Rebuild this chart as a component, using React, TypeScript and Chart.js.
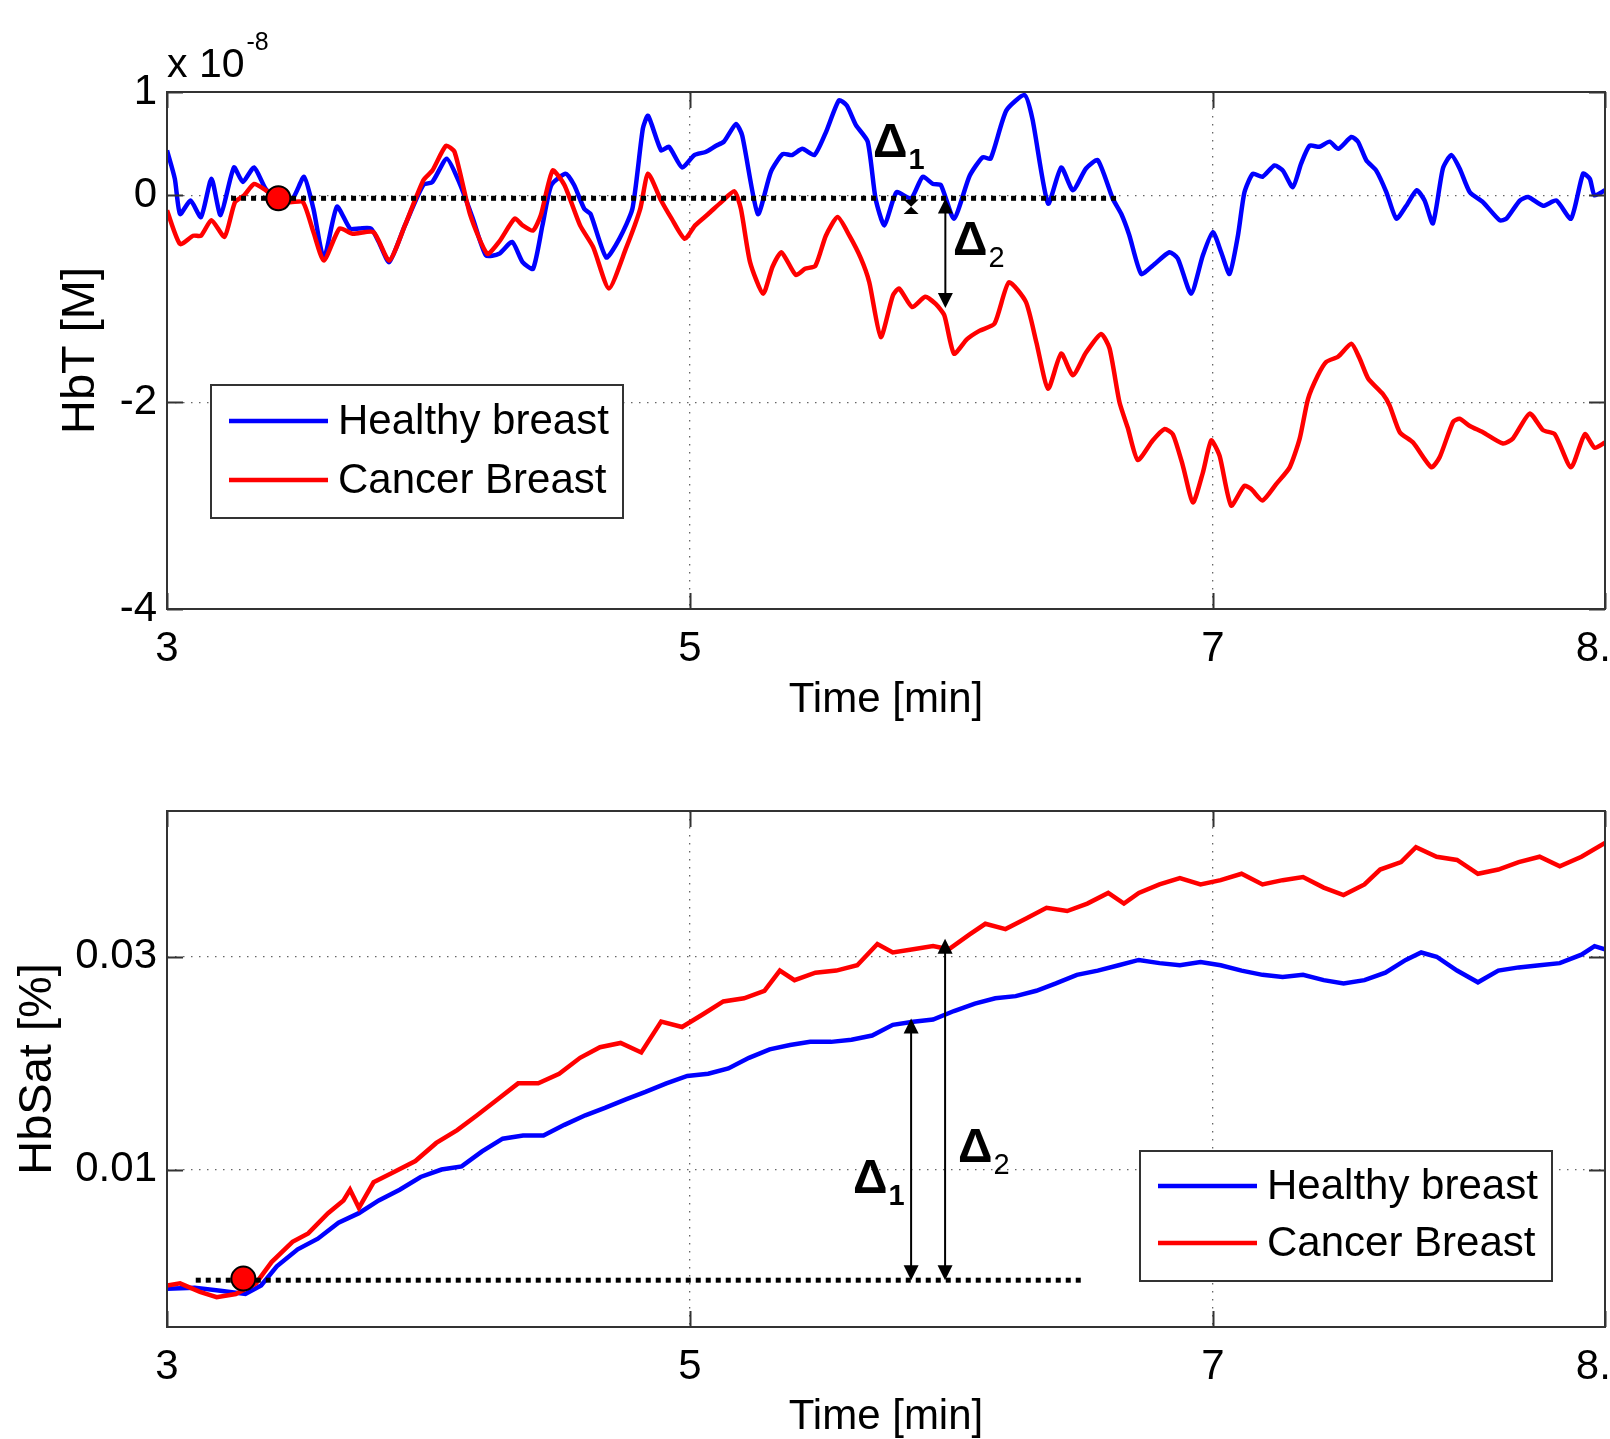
import React, { useEffect, useRef } from "react";
import { Chart, registerables } from "chart.js";
Chart.register(...registerables);

const FONT = '"Liberation Sans", Arial, Helvetica, sans-serif';

// ---------- shared x axis ----------
const X_MIN = 3;
const X_MAX = 8.5;
const X_TICKS = [3, 5, 7, 8.5];
const X_TITLE = "Time [min]";
const SERIES_LABELS = ["Healthy breast", "Cancer Breast"];
const DELTA_SUBS = ["1", "2"];

// ---------- top panel: HbT (x 10^-8 M) ----------
const HBT_Y_MIN = -4;
const HBT_Y_MAX = 1;
const HBT_Y_TICKS = [-4, -2, 0, 1];
const HBT_TITLE = "HbT [M]";
const HBT_EXPONENT = ["x 10", "-8"];

const HBT_HEALTHY_T = [3.0, 3.03, 3.05, 3.09, 3.13, 3.17, 3.205, 3.256, 3.29, 3.333, 3.378, 3.42, 3.48, 3.524, 3.56, 3.6, 3.65, 3.7, 3.735, 3.78, 3.81, 3.85, 3.91, 3.98, 4.015, 4.07, 4.117, 4.17, 4.22, 4.27, 4.32, 4.36, 4.4, 4.436, 4.47, 4.525, 4.557, 4.596, 4.62, 4.68, 4.73, 4.78, 4.82, 4.84, 4.89, 4.92, 4.97, 5.017, 5.06, 5.1, 5.13, 5.176, 5.2, 5.26, 5.31, 5.355, 5.39, 5.43, 5.476, 5.52, 5.57, 5.6, 5.635, 5.68, 5.71, 5.744, 5.79, 5.846, 5.89, 5.93, 5.96, 6.01, 6.07, 6.12, 6.15, 6.21, 6.28, 6.31, 6.37, 6.42, 6.465, 6.515, 6.56, 6.617, 6.65, 6.68, 6.726, 6.77, 6.834, 6.866, 6.917, 6.962, 7.0, 7.032, 7.064, 7.096, 7.121, 7.153, 7.19, 7.236, 7.268, 7.306, 7.338, 7.37, 7.408, 7.447, 7.48, 7.53, 7.555, 7.587, 7.625, 7.664, 7.702, 7.74, 7.78, 7.81, 7.842, 7.88, 7.912, 7.944, 7.983, 8.033, 8.097, 8.123, 8.174, 8.206, 8.263, 8.314, 8.37, 8.416, 8.442, 8.46, 8.5];
const HBT_HEALTHY_V = [0.435, 0.16, -0.18, -0.05, -0.21, 0.16, -0.19, 0.27, 0.13, 0.27, 0.06, -0.03, -0.03, 0.18, -0.13, -0.61, -0.11, -0.32, -0.32, -0.32, -0.45, -0.645, -0.29, 0.1, 0.13, 0.355, 0.13, -0.225, -0.58, -0.565, -0.45, -0.645, -0.71, -0.29, 0.1, 0.21, 0.1, -0.13, -0.18, -0.6, -0.42, -0.13, 0.645, 0.77, 0.435, 0.47, 0.27, 0.39, 0.42, 0.48, 0.52, 0.69, 0.58, -0.18, 0.23, 0.4, 0.39, 0.45, 0.39, 0.61, 0.92, 0.87, 0.68, 0.52, -0.03, -0.29, 0.03, -0.03, 0.18, 0.11, 0.1, -0.225, 0.19, 0.37, 0.355, 0.82, 0.97, 0.74, -0.08, 0.27, 0.05, 0.26, 0.34, -0.03, -0.18, -0.38, -0.76, -0.68, -0.55, -0.61, -0.95, -0.58, -0.355, -0.55, -0.76, -0.39, 0.03, 0.21, 0.18, 0.29, 0.24, 0.08, 0.31, 0.48, 0.47, 0.52, 0.45, 0.565, 0.52, 0.34, 0.24, 0.03, -0.225, -0.1, 0.05, -0.05, -0.27, 0.26, 0.39, 0.26, 0.03, -0.065, -0.24, -0.225, -0.05, -0.016, -0.1, -0.05, -0.225, 0.21, 0.16, 0.0, 0.05];

const HBT_CANCER_T = [3.0, 3.05, 3.1, 3.13, 3.17, 3.22, 3.26, 3.295, 3.333, 3.378, 3.42, 3.47, 3.52, 3.56, 3.6, 3.66, 3.71, 3.79, 3.85, 3.91, 3.98, 4.015, 4.067, 4.1, 4.16, 4.225, 4.27, 4.33, 4.36, 4.4, 4.43, 4.475, 4.52, 4.58, 4.63, 4.69, 4.755, 4.81, 4.84, 4.89, 4.93, 4.98, 5.02, 5.07, 5.12, 5.17, 5.195, 5.23, 5.28, 5.316, 5.35, 5.405, 5.44, 5.48, 5.52, 5.565, 5.61, 5.654, 5.686, 5.73, 5.776, 5.8, 5.85, 5.9, 5.94, 5.973, 6.01, 6.06, 6.107, 6.165, 6.22, 6.285, 6.325, 6.37, 6.42, 6.465, 6.515, 6.573, 6.605, 6.643, 6.675, 6.713, 6.77, 6.815, 6.847, 6.885, 6.924, 6.962, 6.994, 7.026, 7.07, 7.12, 7.147, 7.19, 7.243, 7.294, 7.332, 7.364, 7.402, 7.434, 7.479, 7.53, 7.562, 7.594, 7.65, 7.676, 7.715, 7.766, 7.836, 7.868, 7.919, 7.944, 7.983, 8.033, 8.11, 8.148, 8.212, 8.263, 8.308, 8.37, 8.423, 8.46, 8.5];
const HBT_CANCER_V = [-0.145, -0.47, -0.39, -0.39, -0.24, -0.4, -0.065, 0.0, 0.11, 0.05, -0.03, -0.065, -0.065, -0.355, -0.63, -0.32, -0.37, -0.355, -0.63, -0.29, 0.145, 0.24, 0.48, 0.42, -0.19, -0.565, -0.45, -0.225, -0.29, -0.34, -0.19, 0.24, 0.1, -0.29, -0.5, -0.9, -0.515, -0.13, 0.21, -0.05, -0.225, -0.42, -0.29, -0.18, -0.065, 0.04, -0.13, -0.645, -0.95, -0.69, -0.55, -0.77, -0.71, -0.68, -0.39, -0.21, -0.39, -0.61, -0.84, -1.37, -0.97, -0.9, -1.08, -0.98, -1.05, -1.16, -1.53, -1.39, -1.31, -1.24, -0.84, -1.03, -1.42, -1.87, -1.53, -1.74, -1.52, -1.34, -1.48, -2.0, -2.25, -2.56, -2.37, -2.26, -2.31, -2.61, -2.97, -2.68, -2.37, -2.52, -3.0, -2.81, -2.84, -2.95, -2.79, -2.63, -2.355, -1.97, -1.74, -1.61, -1.56, -1.435, -1.58, -1.77, -1.92, -2.03, -2.29, -2.39, -2.63, -2.53, -2.19, -2.16, -2.23, -2.29, -2.4, -2.35, -2.11, -2.27, -2.31, -2.63, -2.31, -2.44, -2.39];

const HBT_BASELINE_T = [3.245, 6.64];
const HBT_BASELINE_V = [-0.028, -0.028];
const HBT_ONSET_T = [3.426];
const HBT_ONSET_V = [-0.028];
const HBT_ARROW_T = [5.846, 5.977];
const HBT_ARROW_FROM = [-0.04, -0.03];
const HBT_ARROW_TO = [-0.18, -1.09];
const HBT_DELTA_T = [5.7, 6.006];
const HBT_DELTA_V = [0.368, -0.58];

// ---------- bottom panel: HbSat ----------
const SAT_Y_MIN = -0.0048;
const SAT_Y_MAX = 0.0437;
const SAT_Y_TICKS = [0.01, 0.03];
const SAT_TITLE = "HbSat [%]";

const SAT_HEALTHY_T = [3.0, 3.106, 3.204, 3.3, 3.36, 3.42, 3.5, 3.577, 3.656, 3.734, 3.81, 3.89, 3.97, 4.05, 4.127, 4.205, 4.284, 4.362, 4.44, 4.52, 4.6, 4.675, 4.755, 4.83, 4.91, 4.99, 5.07, 5.147, 5.226, 5.305, 5.383, 5.46, 5.54, 5.618, 5.697, 5.776, 5.854, 5.93, 6.01, 6.09, 6.168, 6.246, 6.325, 6.4, 6.48, 6.56, 6.64, 6.717, 6.796, 6.874, 6.953, 7.03, 7.11, 7.19, 7.267, 7.345, 7.424, 7.5, 7.58, 7.66, 7.738, 7.797, 7.856, 7.934, 8.014, 8.092, 8.17, 8.25, 8.327, 8.41, 8.46, 8.5];
const SAT_HEALTHY_V = [-0.0012, -0.0011, -0.0014, -0.0017, -0.0009, 0.0009, 0.0025, 0.0035, 0.005, 0.0059, 0.0071, 0.0081, 0.0093, 0.01, 0.0103, 0.0117, 0.0129, 0.0132, 0.0132, 0.0142, 0.0151, 0.0158, 0.0166, 0.0173, 0.0181, 0.0188, 0.019, 0.0195, 0.0205, 0.0213, 0.0217, 0.022, 0.022, 0.0222, 0.0226, 0.0236, 0.0239, 0.0241, 0.0249, 0.0256, 0.0261, 0.0263, 0.0268, 0.0275, 0.0283, 0.0287, 0.0292, 0.0297, 0.0294, 0.0292, 0.0295, 0.0292, 0.0287, 0.0283, 0.0281, 0.0283, 0.0278, 0.0275, 0.0278, 0.0285, 0.0297, 0.0304, 0.03, 0.0287, 0.0276, 0.0287, 0.029, 0.0292, 0.0294, 0.0302, 0.031, 0.0307];

const SAT_CANCER_T = [3.0, 3.05, 3.126, 3.19, 3.263, 3.34, 3.4, 3.48, 3.54, 3.616, 3.675, 3.7, 3.734, 3.79, 3.87, 3.95, 4.03, 4.11, 4.186, 4.265, 4.343, 4.42, 4.5, 4.58, 4.656, 4.735, 4.814, 4.89, 4.97, 5.05, 5.128, 5.207, 5.285, 5.344, 5.4, 5.48, 5.56, 5.64, 5.717, 5.776, 5.854, 5.93, 5.99, 6.07, 6.13, 6.207, 6.286, 6.364, 6.443, 6.52, 6.6, 6.66, 6.717, 6.796, 6.874, 6.953, 7.03, 7.11, 7.19, 7.267, 7.345, 7.424, 7.5, 7.58, 7.64, 7.72, 7.777, 7.856, 7.934, 8.014, 8.092, 8.17, 8.25, 8.327, 8.41, 8.5];
const SAT_CANCER_V = [-0.0009, -0.0007, -0.0015, -0.002, -0.0017, -0.0007, 0.0013, 0.0032, 0.004, 0.0059, 0.0071, 0.0081, 0.0064, 0.0088, 0.0098, 0.0108, 0.0125, 0.0137, 0.0151, 0.0166, 0.0181, 0.0181, 0.019, 0.0205, 0.0215, 0.0219, 0.021, 0.0239, 0.0234, 0.0246, 0.0258, 0.0261, 0.0268, 0.0287, 0.0278, 0.0285, 0.0287, 0.0292, 0.0312, 0.0304, 0.0307, 0.031, 0.0307, 0.0321, 0.0331, 0.0326, 0.0336, 0.0346, 0.0343, 0.035, 0.036, 0.035, 0.036, 0.0368, 0.0374, 0.0368, 0.0372, 0.0378, 0.0368, 0.0372, 0.0375, 0.0365, 0.0358, 0.0368, 0.0382, 0.0389, 0.0403, 0.0394, 0.0391, 0.0378, 0.0382, 0.0389, 0.0394, 0.0385, 0.0394, 0.0407];

const SAT_BASELINE_T = [3.11, 6.51];
const SAT_BASELINE_V = [-0.0004, -0.0004];
const SAT_ONSET_T = [3.292];
const SAT_ONSET_V = [-0.00025];
const SAT_ARROW_T = [5.846, 5.976];
const SAT_ARROW_FROM = [0.0242, 0.0317];
const SAT_ARROW_TO = [-0.0004, -0.0004];
const SAT_DELTA_T = [5.624, 6.025];
const SAT_DELTA_V = [0.00777, 0.01069];

// ---------- helpers ----------
const zip = (t: number[], v: number[]) => t.map((x, i) => ({ x, y: v[i] }));

const CANVAS_W = 1640; // wider than the page: the page edge clips the "8.5" label like the reference

type Panel = {
  healthyT: number[]; healthyV: number[]; cancerT: number[]; cancerV: number[];
  baseT: number[]; baseV: number[]; onsetT: number[]; onsetV: number[];
  arrowT: number[]; arrowFrom: number[]; arrowTo: number[];
  deltaT: number[]; deltaV: number[];
  yMin: number; yMax: number; yTicks: number[]; yTitle: string;
  yFmt: (v: number) => string;
  exponent?: string[];
  tension: number;
  // layout
  canvasH: number; padTop: number; xAxisH: number; xTitlePad: number; yTitlePad: number;
  legendDx: number; legendDy: number; legendW: number; legendH: number; legendRows: number[];
};

function drawArrow(ctx: CanvasRenderingContext2D, x: number, ya: number, yb: number) {
  const y1 = Math.min(ya, yb), y2 = Math.max(ya, yb);
  const L = 15, W = 7.5;
  ctx.fillStyle = "#000";
  ctx.strokeStyle = "#000";
  ctx.lineWidth = 2;
  if (y2 - y1 > 2 * L) {
    ctx.beginPath();
    ctx.moveTo(x, y1 + L - 1);
    ctx.lineTo(x, y2 - L + 1);
    ctx.stroke();
    ctx.beginPath();
    ctx.moveTo(x, y1); ctx.lineTo(x - W, y1 + L); ctx.lineTo(x + W, y1 + L); ctx.closePath();
    ctx.fill();
    ctx.beginPath();
    ctx.moveTo(x, y2); ctx.lineTo(x - W, y2 - L); ctx.lineTo(x + W, y2 - L); ctx.closePath();
    ctx.fill();
  } else {
    const m = (y1 + y2) / 2;
    ctx.beginPath();
    ctx.moveTo(x - W, y1); ctx.lineTo(x + W, y1); ctx.lineTo(x, m); ctx.closePath();
    ctx.fill();
    ctx.beginPath();
    ctx.moveTo(x - W, y2); ctx.lineTo(x + W, y2); ctx.lineTo(x, m); ctx.closePath();
    ctx.fill();
  }
}

function decorPlugin(p: Panel) {
  return {
    id: "panelDecor",
    afterDatasetsDraw(chart: any) {
      const ctx: CanvasRenderingContext2D = chart.ctx;
      const a = chart.chartArea;
      const xs = chart.scales.x;
      const ys = chart.scales.y;
      ctx.save();

      // inward tick marks
      ctx.strokeStyle = "#333";
      ctx.lineWidth = 2;
      const TL = 16;
      ctx.beginPath();
      X_TICKS.forEach((v) => {
        const x = Math.round(xs.getPixelForValue(v)) + 0.5;
        ctx.moveTo(x, a.bottom); ctx.lineTo(x, a.bottom - TL);
        ctx.moveTo(x, a.top); ctx.lineTo(x, a.top + TL);
      });
      p.yTicks.forEach((v) => {
        const y = Math.round(ys.getPixelForValue(v)) + 0.5;
        ctx.moveTo(a.left, y); ctx.lineTo(a.left + TL, y);
        ctx.moveTo(a.right, y); ctx.lineTo(a.right - TL, y);
      });
      ctx.stroke();

      // box
      ctx.strokeRect(a.left, a.top, a.right - a.left, a.bottom - a.top);

      // arrows
      p.arrowT.forEach((t, i) => {
        drawArrow(ctx, xs.getPixelForValue(t), ys.getPixelForValue(p.arrowFrom[i]), ys.getPixelForValue(p.arrowTo[i]));
      });

      // delta labels
      ctx.fillStyle = "#000";
      ctx.textBaseline = "alphabetic";
      ctx.textAlign = "left";
      p.deltaT.forEach((t, i) => {
        const x = xs.getPixelForValue(t);
        const y = ys.getPixelForValue(p.deltaV[i]);
        ctx.font = `bold 48px ${FONT}`;
        ctx.fillText("\u0394", x, y);
        const w = ctx.measureText("\u0394").width;
        ctx.font = `${i === 0 ? "bold " : ""}29px ${FONT}`;
        ctx.fillText(DELTA_SUBS[i], x + w + 1, y + 12);
      });

      // legend
      const lx = a.left + p.legendDx;
      const ly = a.top + p.legendDy;
      ctx.fillStyle = "#fff";
      ctx.fillRect(lx, ly, p.legendW, p.legendH);
      ctx.strokeStyle = "#333";
      ctx.lineWidth = 2;
      ctx.strokeRect(lx, ly, p.legendW, p.legendH);
      ctx.font = `42px ${FONT}`;
      ctx.textBaseline = "middle";
      [0, 1].forEach((k) => {
        const ds = chart.data.datasets[k];
        const ry = ly + p.legendRows[k];
        ctx.strokeStyle = ds.borderColor;
        ctx.lineWidth = 4.5;
        ctx.beginPath();
        ctx.moveTo(lx + 18, ry); ctx.lineTo(lx + 117, ry);
        ctx.stroke();
        ctx.fillStyle = "#000";
        ctx.fillText(ds.label, lx + 127, ry + 1);
      });

      // exponent label
      if (p.exponent) {
        ctx.fillStyle = "#000";
        ctx.textBaseline = "alphabetic";
        ctx.font = `41px ${FONT}`;
        ctx.fillText(p.exponent[0], a.left, a.top - 15);
        const w = ctx.measureText(p.exponent[0]).width;
        ctx.font = `25px ${FONT}`;
        ctx.fillText(p.exponent[1], a.left + w + 2, a.top - 42);
      }
      ctx.restore();
    },
  };
}

function buildConfig(p: Panel): any {
  return {
    type: "line",
    data: {
      datasets: [
        { label: SERIES_LABELS[0], data: zip(p.healthyT, p.healthyV), borderColor: "#0000ff", borderWidth: 4.5, pointRadius: 0, tension: p.tension, order: 4 },
        { label: SERIES_LABELS[1], data: zip(p.cancerT, p.cancerV), borderColor: "#ff0000", borderWidth: 4.5, pointRadius: 0, tension: p.tension, order: 3 },
        { label: "baseline", data: zip(p.baseT, p.baseV), borderColor: "#000", borderWidth: 5, borderDash: [5, 5], pointRadius: 0, order: 2 },
        { label: "onset", data: zip(p.onsetT, p.onsetV), showLine: false, pointRadius: 12, pointBackgroundColor: "#ff0000", pointBorderColor: "#000", pointBorderWidth: 2, order: 1, clip: false },
      ],
    },
    options: {
      responsive: false,
      animation: false,
      devicePixelRatio: 1,
      events: [],
      layout: { padding: { top: p.padTop, right: CANVAS_W - 1605, left: 0, bottom: 0 } },
      plugins: { legend: { display: false }, tooltip: { enabled: false }, title: { display: false } },
      scales: {
        x: {
          type: "linear",
          min: X_MIN,
          max: X_MAX,
          afterBuildTicks: (s: any) => { s.ticks = X_TICKS.map((value) => ({ value })); },
          afterFit: (s: any) => { s.height = p.xAxisH; s.paddingLeft = 0; s.paddingRight = 0; },
          grid: { color: "#666", lineWidth: 1.3, drawTicks: false },
          border: { display: false, dash: [1.5, 6.5] },
          ticks: {
            autoSkip: false, maxRotation: 0, padding: 15, color: "#000",
            font: { family: FONT, size: 42 },
            callback: (v: number) => String(v),
          },
          title: { display: true, text: X_TITLE, color: "#000", font: { family: FONT, size: 42 }, padding: { top: 0, bottom: p.xTitlePad } },
        },
        y: {
          type: "linear",
          min: p.yMin,
          max: p.yMax,
          afterBuildTicks: (s: any) => { s.ticks = p.yTicks.map((value) => ({ value })); },
          afterFit: (s: any) => { s.width = 167; },
          grid: { color: "#666", lineWidth: 1.3, drawTicks: false },
          border: { display: false, dash: [1.5, 6.5] },
          ticks: {
            autoSkip: false, padding: 10, color: "#000",
            font: { family: FONT, size: 42 },
            callback: (v: number) => p.yFmt(v),
          },
          title: { display: true, text: p.yTitle, color: "#000", font: { family: FONT, size: 47 }, padding: { top: p.yTitlePad, bottom: 0 } },
        },
      },
    },
    plugins: [decorPlugin(p)],
  };
}

const TOP_PANEL: Panel = {
  healthyT: HBT_HEALTHY_T, healthyV: HBT_HEALTHY_V, cancerT: HBT_CANCER_T, cancerV: HBT_CANCER_V,
  baseT: HBT_BASELINE_T, baseV: HBT_BASELINE_V, onsetT: HBT_ONSET_T, onsetV: HBT_ONSET_V,
  arrowT: HBT_ARROW_T, arrowFrom: HBT_ARROW_FROM, arrowTo: HBT_ARROW_TO,
  deltaT: HBT_DELTA_T, deltaV: HBT_DELTA_V,
  yMin: HBT_Y_MIN, yMax: HBT_Y_MAX, yTicks: HBT_Y_TICKS, yTitle: HBT_TITLE,
  yFmt: (v) => String(v), exponent: HBT_EXPONENT, tension: 0.2,
  canvasH: 740, padTop: 92, xAxisH: 131, xTitlePad: 14, yTitlePad: 53,
  legendDx: 44, legendDy: 293, legendW: 412, legendH: 133, legendRows: [36, 95],
};

const BOTTOM_PANEL: Panel = {
  healthyT: SAT_HEALTHY_T, healthyV: SAT_HEALTHY_V, cancerT: SAT_CANCER_T, cancerV: SAT_CANCER_V,
  baseT: SAT_BASELINE_T, baseV: SAT_BASELINE_V, onsetT: SAT_ONSET_T, onsetV: SAT_ONSET_V,
  arrowT: SAT_ARROW_T, arrowFrom: SAT_ARROW_FROM, arrowTo: SAT_ARROW_TO,
  deltaT: SAT_DELTA_T, deltaV: SAT_DELTA_V,
  yMin: SAT_Y_MIN, yMax: SAT_Y_MAX, yTicks: SAT_Y_TICKS, yTitle: SAT_TITLE,
  yFmt: (v) => v.toFixed(2), tension: 0,
  canvasH: 720, padTop: 71, xAxisH: 133, xTitlePad: 17, yTitlePad: 10,
  legendDx: 973, legendDy: 340, legendW: 412, legendH: 130, legendRows: [35, 92],
};

function PanelChart({ panel, top }: { panel: Panel; top: number }) {
  const ref = useRef<HTMLCanvasElement>(null);
  useEffect(() => {
    if (!ref.current) return;
    const chart = new Chart(ref.current, buildConfig(panel));
    return () => chart.destroy();
  }, [panel]);
  return (
    <canvas
      ref={ref}
      width={CANVAS_W}
      height={panel.canvasH}
      style={{ position: "absolute", left: 0, top, display: "block" }}
    />
  );
}

export default function App() {
  return (
    <div
      style={{
        position: "absolute",
        left: 0,
        top: 0,
        width: 1610,
        height: 1439,
        overflow: "hidden",
        background: "#fff",
      }}
    >
      <PanelChart panel={TOP_PANEL} top={0} />
      <PanelChart panel={BOTTOM_PANEL} top={740} />
    </div>
  );
}
